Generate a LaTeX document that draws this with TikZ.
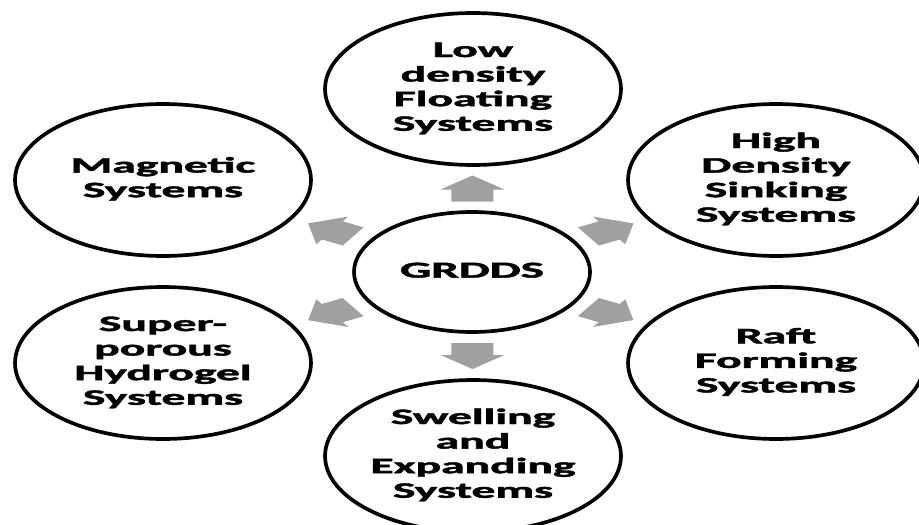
\documentclass[tikz,border=0pt]{standalone}
\usepackage{fontspec}
\setmainfont{Carlito}[BoldFeatures={FakeBold=1.6}]
\usetikzlibrary{shapes.geometric}

\definecolor{arrowgray}{RGB}{160,160,160}
% wide lettering, several lines centred
\newcommand{\wtext}[1]{\scalebox{2.15}[1]{\begin{tabular}{@{}c@{}}#1\end{tabular}}}

\tikzset{
	sysnode/.style={ellipse, draw, line width=2.1pt, minimum width=5.92cm,
		minimum height=3.04cm, inner sep=0pt, font=\fontsize{12.6}{14}\selectfont\bfseries},
	pics/grarrow/.style={code={
		\begin{scope}[xscale=2, rotate=#1]
			\fill[arrowgray] (-13,-10.5) -- (-1,-10.5) -- (-1,-16) -- (13,0)
				-- (-1,16) -- (-1,10.5) -- (-13,10.5) -- cycle;
		\end{scope}}}
}

\begin{document}
\begin{tikzpicture}[x=0.02cm, y=-0.02cm]
	\useasboundingbox (0,0) rectangle (919,524);

	\node[sysnode, minimum width=4.72cm, minimum height=2.4cm,
		font=\fontsize{13}{16}\selectfont\bfseries] (grdds) at (472,272) {\wtext{GRDDS}};

	\node[sysnode] (lowd) at (473,89) {\wtext{Low\\density\\Floating\\Systems}};
	\node[sysnode] (magn) at (163,180) {\wtext{Magnetic\\Systems}};
	\node[sysnode] (highd) at (776,180) {\wtext{High\\Density\\Sinking\\Systems}};
	\node[sysnode] (superp) at (163,363) {\wtext{Super-\\porous\\Hydrogel\\Systems}};
	\node[sysnode] (raft) at (776,363) {\wtext{Raft\\Forming\\Systems}};
	\node[sysnode] (swell) at (473,456) {\wtext{Swelling\\and\\Expanding\\Systems}};

	% grey arrows out of the centre
	\path (grdds) -- (lowd) pic[pos=.5]{grarrow=90};
	\path (grdds) -- (magn) pic[pos=.5]{grarrow=150};
	\path (grdds) -- (highd) pic[pos=.5]{grarrow=30};
	\path (grdds) -- (superp) pic[pos=.5]{grarrow=210};
	\path (grdds) -- (raft) pic[pos=.5]{grarrow=-30};
	\path (grdds) -- (swell) pic[pos=.5]{grarrow=-90};
\end{tikzpicture}
\end{document}
